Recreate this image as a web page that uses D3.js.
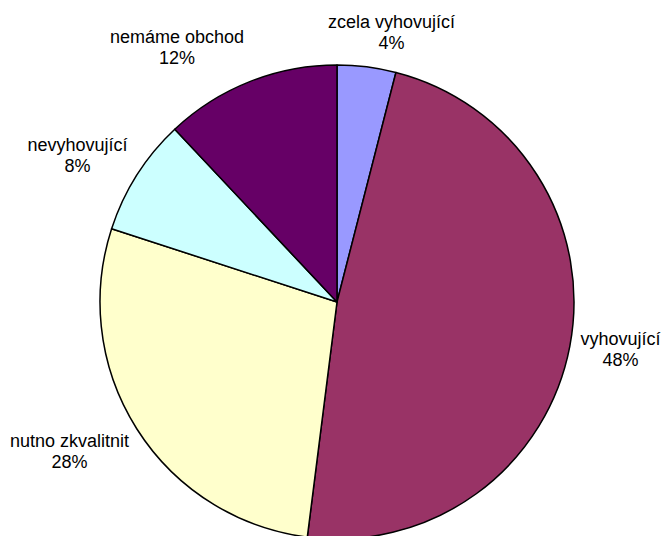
<!DOCTYPE html>
<html>
<head>
<meta charset="utf-8">
<script src="https://cdn.jsdelivr.net/npm/d3@7/dist/d3.min.js"></script>
<style>
  html, body { margin: 0; padding: 0; background: #fff; }
  svg { display: block; }
  text { font-family: "Liberation Sans", Arial, sans-serif; font-size: 18px; fill: #000; }
</style>
</head>
<body>
<script>
// Data
const categories = ["zcela vyhovující", "vyhovující", "nutno zkvalitnit", "nevyhovující", "nemáme obchod"];
const values = [4, 48, 28, 8, 12];
const colors = ["#9999FF", "#993366", "#FFFFCC", "#CCFFFF", "#660066"];
// label nudges (px) from the default radial position
const labelNudge = [[19.5, 4], [8.5, -9], [-31, -5], [-23, -1], [-57, 1]];

const W = 665, H = 536;
const cx = 337, cy = 302, r = 237, labelR = 280;

const svg = d3.select("body").append("svg").attr("width", W).attr("height", H);
const g = svg.append("g").attr("transform", `translate(${cx},${cy})`);

const data = categories.map((c, i) => ({ name: c, value: values[i], color: colors[i], nudge: labelNudge[i] }));
const total = d3.sum(values);
const pie = d3.pie().value(d => d.value).sort(null).startAngle(0).endAngle(2 * Math.PI);
const arc = d3.arc().innerRadius(0).outerRadius(r);
const arcs = pie(data);

g.selectAll("path").data(arcs).enter().append("path")
  .attr("d", arc)
  .attr("fill", d => d.data.color)
  .attr("stroke", "#000")
  .attr("stroke-width", 1.5)
  .attr("stroke-linejoin", "round");

const fmt = d3.format(".0%");
const lbl = svg.append("g").selectAll("text").data(arcs).enter().append("text")
  .attr("text-anchor", "middle")
  .attr("transform", d => {
    const a = (d.startAngle + d.endAngle) / 2;
    const x = cx + labelR * Math.sin(a) + d.data.nudge[0];
    const y = cy - labelR * Math.cos(a) + d.data.nudge[1];
    return `translate(${x},${y})`;
  });
lbl.append("tspan").attr("x", 0).attr("y", 0).text(d => d.data.name);
lbl.append("tspan").attr("x", 0).attr("y", 21).text(d => fmt(d.data.value / total));
</script>
</body>
</html>
